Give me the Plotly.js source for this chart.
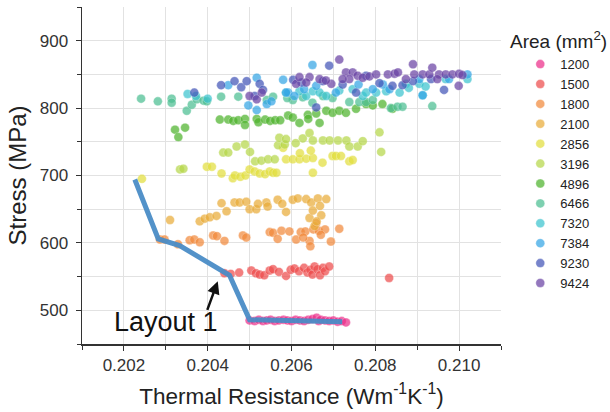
<!DOCTYPE html>
<html><head><meta charset="utf-8">
<script src="https://cdn.plot.ly/plotly-3.0.1.min.js"></script>
<style>html,body{margin:0;padding:0;background:#fff}</style>
</head><body><div id="chart" style="width:610px;height:412px"></div>
<script>
const areaNames = ["1200","1500","1800","2100","2856","3196","4896","6466","7320","7384","9230","9424"];
const areaColors = ["#ec2f8a","#ee4d4d","#f28a3c","#e9ac3a","#e2df3e","#b6d74a","#4fb42e","#4cbf92","#3cc4cf","#35a6e6","#4356b8","#6a43a5"];

const x1200 = [0.2050,0.20512,0.20522,0.20532,0.20541,0.2055,0.2056,0.2057,0.20581,0.2059,0.206,0.2061,0.2062,0.2063,0.2064,0.2065,0.2066,0.20665,0.2067,0.2068,0.2069,0.207,0.2071,0.2072,0.2073];
const y1200 = [485,484,486,484,485,486,484,485,486,485,484,486,485,484,486,487,489,484,486,485,484,485,483,484,482];

const x1500 = [0.2044,0.20455,0.20475,0.20504,0.20515,0.20524,0.20535,0.20548,0.20556,0.2057,0.20587,0.20598,0.20607,0.20618,0.2063,0.20638,0.20645,0.2065,0.20655,0.20662,0.20668,0.20675,0.2068,0.2069,0.20833];
const y1500 = [555,554,556,559,555,553,552,559,561,557,551,560,562,558,563,556,560,553,565,561,552,563,558,565,548];

const x1800 = [0.20286,0.20297,0.20329,0.20357,0.20368,0.20381,0.20413,0.20422,0.2044,0.20484,0.20492,0.20548,0.20556,0.20567,0.20576,0.20595,0.20611,0.20622,0.20633,0.20643,0.20645,0.20652,0.20659,0.20665,0.2068,0.20694,0.20714,0.2067,0.20628];
const y1800 = [605,605,598,604,605,601,611,610,603,611,608,616,615,606,618,617,605,616,617,603,595,620,629,618,620,602,621,612,608];

const x2100 = [0.2031,0.20381,0.20393,0.20405,0.20421,0.20433,0.20445,0.20464,0.20476,0.20492,0.205,0.20516,0.2054,0.20543,0.20567,0.20578,0.20587,0.20603,0.20615,0.20635,0.20643,0.20647,0.20651,0.20655,0.20663,0.20671,0.20683,0.2066,0.20668,0.2052];
const y2100 = [634,632,636,638,640,659,647,660,660,661,650,650,660,654,664,658,646,664,666,665,637,660,648,625,666,641,665,632,655,658];

const x2856 = [0.20243,0.20398,0.2041,0.20433,0.2046,0.20465,0.20478,0.2049,0.205,0.20512,0.20524,0.20537,0.20548,0.20556,0.20564,0.20587,0.20603,0.20619,0.20635,0.20651,0.20674,0.20698,0.20706,0.20718,0.20738,0.20746,0.20646,0.20651,0.2058,0.2062];
const y2856 = [695,713,713,703,696,700,698,700,709,706,703,702,706,704,704,724,724,724,725,726,719,729,729,729,721,723,737,704,741,733];

const x3196 = [0.20334,0.20342,0.20437,0.20449,0.20469,0.20489,0.20501,0.20513,0.20528,0.20544,0.2056,0.20568,0.20584,0.20571,0.20587,0.20627,0.20643,0.20651,0.20675,0.20691,0.20711,0.20731,0.20738,0.20758,0.2077,0.2081,0.20814,0.2061];
const y3196 = [709,710,734,734,743,746,735,721,722,724,724,745,746,756,754,755,763,752,752,752,752,752,743,743,751,764,735,748];

const x4896 = [0.20322,0.20346,0.2033,0.20429,0.20449,0.20461,0.20473,0.20489,0.20489,0.20517,0.20521,0.20537,0.20549,0.20561,0.20573,0.20592,0.20603,0.20619,0.20639,0.20659,0.20667,0.20683,0.20698,0.20714,0.2073,0.20754,0.20778,0.20794,0.20817,0.20841,0.2064];
const y4896 = [768,771,757,783,783,781,782,784,775,784,779,783,781,782,782,789,786,778,790,792,778,796,793,796,793,799,806,804,806,799,784];

const x6466 = [0.20241,0.20281,0.20314,0.20314,0.2035,0.20362,0.20374,0.2039,0.20398,0.20432,0.20473,0.20541,0.20556,0.20603,0.20627,0.20675,0.20698,0.20738,0.20762,0.20778,0.20794,0.20837,0.20853,0.20865,0.20936,0.2065,0.2059];
const y6466 = [814,810,814,808,796,805,813,811,810,817,817,812,817,812,816,818,815,809,809,809,812,800,802,802,803,808,815];

const x7320 = [0.20352,0.20372,0.204,0.20587,0.20619,0.20635,0.20651,0.20667,0.20683,0.20714,0.20746,0.2077,0.20778,0.20802,0.20826,0.20858,0.20873,0.20905,0.20913,0.20968,0.2102,0.2088,0.2092];
const y7320 = [821,818,814,823,825,818,825,823,818,826,828,818,823,823,825,823,836,836,819,843,843,830,832];

const x7384 = [0.20449,0.20517,0.20497,0.20517,0.20541,0.2058,0.20592,0.2065,0.20587,0.20607,0.20659,0.20706,0.2076,0.20794,0.20818,0.20834,0.20905,0.20913,0.20976,0.2102,0.20552,0.2063];
const y7384 = [834,845,804,797,806,842,823,864,823,818,833,823,835,828,835,828,843,819,843,850,810,828];

const x9230 = [0.20368,0.20432,0.20464,0.2048,0.20493,0.20512,0.20524,0.20532,0.2069,0.20624,0.20675,0.20754,0.20778,0.2081,0.20841,0.20865,0.20933,0.20964,0.20659,0.20722,0.20604,0.2089];
const y9230 = [823,834,840,831,840,818,836,827,863,838,840,823,848,837,833,834,843,827,801,835,842,840];

const x9424 = [0.205,0.20517,0.20529,0.20611,0.20619,0.20643,0.20667,0.20695,0.20714,0.2073,0.20746,0.20738,0.20758,0.2077,0.20786,0.20802,0.2083,0.20846,0.20854,0.2089,0.20893,0.20913,0.20929,0.20936,0.20952,0.20968,0.20984,0.21,0.20999,0.21008,0.20635,0.20682,0.20722,0.20873,0.20948];
const y9424 = [818,813,823,836,846,846,843,836,872,853,853,843,848,845,847,850,850,851,853,865,850,850,850,860,850,850,850,851,833,849,838,841,843,843,843];

const layoutLineX = [0.20226,0.20282,0.20333,0.20452,0.2050,0.20721];
const layoutLineY = [694,606,596,552,486,483];

const xs = [x1200,x1500,x1800,x2100,x2856,x3196,x4896,x6466,x7320,x7384,x9230,x9424];
const ys = [y1200,y1500,y1800,y2100,y2856,y3196,y4896,y6466,y7320,y7384,y9230,y9424];

const traces = areaNames.map((n,i)=>({
  type:'scatter', mode:'markers', name:n, x:xs[i], y:ys[i],
  marker:{color:areaColors[i], size:9, opacity:0.72, line:{width:0.6,color:'rgba(255,255,255,0.6)'}}
}));
traces.push({type:'scatter', mode:'lines', x:layoutLineX, y:layoutLineY, showlegend:false,
  line:{color:'#4a8cc6', width:5}, opacity:0.95});

const font = 'Liberation Sans, Arial, sans-serif';
const layout = {
  width:610, height:412,
  margin:{l:82, r:109, t:7, b:68},
  paper_bgcolor:'#fff', plot_bgcolor:'#fff',
  font:{family:font, color:'#222'},
  xaxis:{range:[0.201,0.211], dtick:0.002, tick0:0.202, tickformat:'.3f',
    showline:true, linecolor:'#333', linewidth:1.5, ticks:'outside', ticklen:5, tickcolor:'#333',
    showgrid:true, gridcolor:'#e2e2e2', zeroline:false,
    minor:{dtick:0.001, tick0:0.201, ticks:'outside', ticklen:4, tickcolor:'#333', showgrid:true, gridcolor:'#e2e2e2'},
    tickfont:{size:17, color:'#333'},
    title:{text:'Thermal Resistance (Wm<sup>-1</sup>K<sup>-1</sup>)', font:{size:22.5, color:'#222'}, standoff:14}},
  yaxis:{range:[450,950], dtick:100, tick0:500,
    showline:true, linecolor:'#333', linewidth:1.5, ticks:'outside', ticklen:5, tickcolor:'#333',
    showgrid:true, gridcolor:'#e2e2e2', zeroline:false, ticklabelstandoff:4,
    minor:{dtick:50, ticks:'outside', ticklen:4, tickcolor:'#333', showgrid:true, gridcolor:'#e2e2e2'},
    tickfont:{size:17, color:'#333'},
    title:{text:'Stress (MPa)', font:{size:24, color:'#222'}, standoff:6}},
  legend:{x:1.046, xanchor:'left', y:0.875, yanchor:'top', font:{size:13, color:'#222'},
    itemsizing:'trace', tracegroupgap:0},
  annotations:[
    {x:1.0167, y:0.902, xref:'paper', yref:'paper', xanchor:'left', yanchor:'middle',
     text:'Area (mm<sup>2</sup>)', showarrow:false, font:{size:19, color:'#222', family:font}},
    {x:0.20424, y:543, xref:'x', yref:'y', ax:-11, ay:30, axref:'pixel', ayref:'pixel',
     text:'', showarrow:true, arrowhead:2, arrowsize:1, arrowwidth:2.5, arrowcolor:'#111'},
    {x:0.2030, y:482, xref:'x', yref:'y', text:'Layout 1', showarrow:false,
     font:{size:27, color:'#111', family:font}}
  ],
  showlegend:true
};
Plotly.newPlot('chart', traces, layout, {displayModeBar:false, staticPlot:true});
</script></body></html>
